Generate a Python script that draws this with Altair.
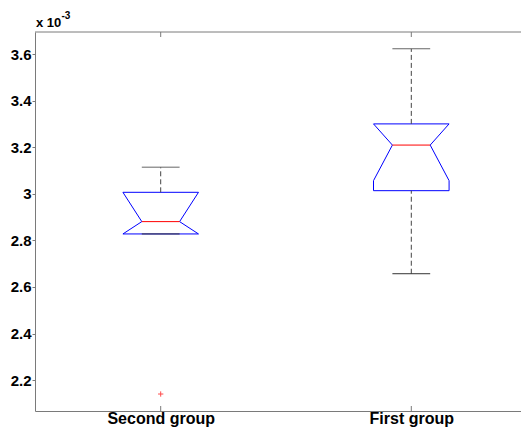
import altair as alt
import pandas as pd

# ---- data ----
groups = ["Second group", "First group"]
positions = [1, 2]
whisker_hi = [3.115, 3.624]
q3 = [3.007, 3.301]
notch_hi = [3.007, 3.301]
median = [2.881, 3.210]
notch_lo = [2.828, 3.057]
q1 = [2.828, 3.014]
whisker_lo = [2.828, 2.657]
outlier_group = ["Second group"]
outlier_value = [2.140]
y_ticks = [2.2, 2.4, 2.6, 2.8, 3.0, 3.2, 3.4, 3.6]

W, H = 486, 379
BOX_HALF = 0.1508
NOTCH_HALF = 0.0754

xscale = alt.Scale(domain=[0.4984, 0.4984 + W / 250.6], nice=False, zero=False)
yscale = alt.Scale(domain=[2.067, 3.696], nice=False, zero=False)
AX = "#7a7a7a"

pos_of = dict(zip(groups, positions))

# notched box outline built from the statistics
rows = []
for g, p, a, nh, m, nl, b in zip(groups, positions, q3, notch_hi, median, notch_lo, q1):
    pts = [
        (p - BOX_HALF, a), (p + BOX_HALF, a), (p + BOX_HALF, nh),
        (p + NOTCH_HALF, m), (p + BOX_HALF, nl), (p + BOX_HALF, b),
        (p - BOX_HALF, b), (p - BOX_HALF, nl), (p - NOTCH_HALF, m),
        (p - BOX_HALF, nh), (p - BOX_HALF, a),
    ]
    for i, (px, py) in enumerate(pts):
        rows.append({"group": g, "idx": i, "px": px, "py": py})
outline = pd.DataFrame(rows)

stats = pd.DataFrame({
    "group": groups, "pos": positions,
    "lo": [p - NOTCH_HALF for p in positions],
    "hi": [p + NOTCH_HALF for p in positions],
    "whi": whisker_hi, "q3": q3, "med": median, "q1": q1, "wlo": whisker_lo,
})
outl = pd.DataFrame({"group": outlier_group, "value": outlier_value})
outl["pos"] = outl["group"].map(pos_of)

label_expr = "datum.value == 1 ? 'Second group' : (datum.value == 2 ? 'First group' : '')"

x_axis = alt.Axis(values=positions, labelExpr=label_expr, grid=False, ticks=False,
                  labelFont="Liberation Sans", labelFontWeight="bold", labelFontSize=16,
                  labelColor="black", labelBaseline="alphabetic", labelPadding=12,
                  domainColor=AX, title=None)
y_axis = alt.Axis(values=y_ticks, format="~g", grid=False, tickSize=3, tickColor=AX,
                  labelFont="Liberation Sans", labelFontWeight="bold", labelFontSize=15,
                  labelColor="black", labelPadding=1, domainColor=AX, title=None)

box = alt.Chart(outline).mark_line(color="blue", strokeWidth=1).encode(
    x=alt.X("px:Q", scale=xscale, axis=x_axis),
    y=alt.Y("py:Q", scale=yscale, axis=y_axis),
    detail="group:N",
    order="idx:Q",
)

base = alt.Chart(stats)
whisk_up = base.mark_rule(color="#444", strokeDash=[5, 3], strokeWidth=1).encode(
    x=alt.X("pos:Q", scale=xscale), y=alt.Y("q3:Q", scale=yscale), y2="whi:Q")
whisk_dn = base.mark_rule(color="#444", strokeDash=[5, 3], strokeWidth=1).encode(
    x=alt.X("pos:Q", scale=xscale), y=alt.Y("wlo:Q", scale=yscale), y2="q1:Q")
cap_up = base.mark_rule(color="#666", strokeWidth=1).encode(
    x=alt.X("lo:Q", scale=xscale), x2="hi:Q", y=alt.Y("whi:Q", scale=yscale))
cap_dn = base.mark_rule(color="#333", strokeWidth=1).encode(
    x=alt.X("lo:Q", scale=xscale), x2="hi:Q", y=alt.Y("wlo:Q", scale=yscale))
med_line = base.mark_rule(color="red", strokeWidth=1).encode(
    x=alt.X("lo:Q", scale=xscale), x2="hi:Q", y=alt.Y("med:Q", scale=yscale))

out_pts = alt.Chart(outl).mark_point(shape="M-1,0L1,0M0,-1L0,1", color="red",
                                     filled=False, size=28, strokeWidth=1).encode(
    x=alt.X("pos:Q", scale=xscale), y=alt.Y("value:Q", scale=yscale))

tick_bot = base.mark_rule(color=AX).encode(
    x=alt.X("pos:Q", scale=xscale), y=alt.value(H), y2=alt.value(H - 5))
tick_top = base.mark_rule(color=AX).encode(
    x=alt.X("pos:Q", scale=xscale), y=alt.value(0), y2=alt.value(5))
top_border = alt.Chart(pd.DataFrame({"a": [0]})).mark_rule(color=AX).encode(
    x=alt.value(0), x2=alt.value(W), y=alt.value(0))

exp_base = alt.Chart(pd.DataFrame({"t": ["x 10"]})).mark_text(
    align="left", baseline="alphabetic", font="Liberation Sans", fontWeight="bold",
    fontSize=13, color="black").encode(x=alt.value(1), y=alt.value(-5), text="t:N")
exp_sup = alt.Chart(pd.DataFrame({"t": ["-3"]})).mark_text(
    align="left", baseline="alphabetic", font="Liberation Sans", fontWeight="bold",
    fontSize=10, color="black").encode(x=alt.value(26.5), y=alt.value(-13), text="t:N")

chart = alt.layer(
    box, whisk_up, whisk_dn, cap_up, cap_dn, med_line, out_pts,
    tick_bot, tick_top, top_border, exp_base, exp_sup,
).properties(
    width=W, height=H,
    autosize=alt.AutoSizeParams(type="none"),
    padding={"left": 27, "top": 24, "right": 0, "bottom": 16},
    background="white",
).configure_view(strokeWidth=0)

chart.save("out.html", embed_options={"renderer": "svg", "actions": False})
